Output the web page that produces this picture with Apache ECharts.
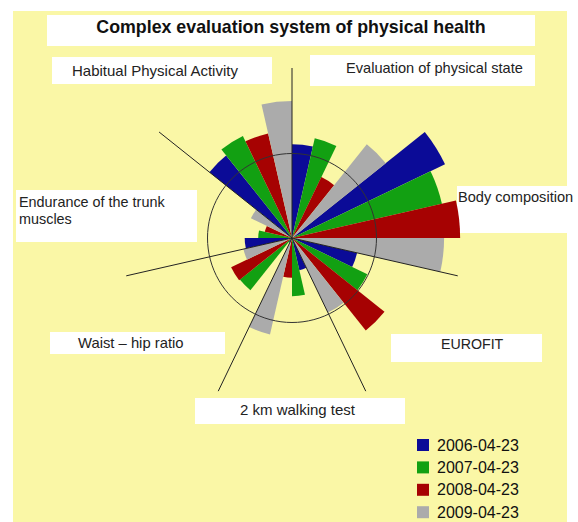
<!DOCTYPE html>
<html>
<head>
<meta charset="utf-8">
<script src="https://cdn.jsdelivr.net/npm/echarts@6/dist/echarts.min.js"></script>
<style>
html,body{margin:0;padding:0;background:#ffffff;}
#chart{width:578px;height:522px;}
</style>
</head>
<body>
<div id="chart"></div>
<script>
// Categories, clockwise from the top
var categories = ['Evaluation of physical state', 'Body composition', 'EUROFIT', '2 km walking test', 'Waist – hip ratio', 'Endurance of the trunk muscles', 'Habitual Physical Activity'];
var seriesNames = ['2006-04-23', '2007-04-23', '2008-04-23', '2009-04-23'];
// values (reference circle = 100)
var s2006 = [111, 201, 79, 39, 6, 56, 125];
var s2007 = [121, 182, 99, 69, 79, 40, 134];
var s2008 = [80, 199, 140, 47, 80, 33, 127];
var s2009 = [142, 180, 98, 117, 59, 54, 162];
var titleText = 'Complex evaluation system of physical health';

var colors = ['#0b0b97', '#12a012', '#a60202', '#ababab'];
var chart = echarts.init(document.getElementById('chart'), null, {renderer: 'svg'});

var cx = 292, cy = 238;
var pxPerUnit = 0.845;
var rMax = 220;

// label boxes: [x, y, w, h, textX, textY, fontSize]
var boxes = [
  [310, 55, 225, 31, 346, 68, 14.6],
  [457, 186, 121, 47, 458, 197, 14.6],
  [391, 334, 151, 28, 441, 344, 14.2],
  [195, 398, 210, 26, 240, 409, 15],
  [50, 332, 175, 22, 78, 343, 14.8],
  [16, 190, 181, 52, 19, 210, 14.4],
  [52, 57, 220, 27, 72, 70, 15]
];
var labelTexts = categories.slice();
labelTexts[5] = 'Endurance of the trunk\nmuscles';

var graphics = [
  {type: 'rect', shape: {x: 13, y: 11, width: 554, height: 511}, style: {fill: '#faf7a6'}, z: -10, silent: true},
  {type: 'rect', shape: {x: 47, y: 15, width: 488, height: 31}, style: {fill: '#ffffff'}, z: -5},
  {type: 'text', x: 291, y: 27, style: {text: titleText, font: 'bold 17.8px "Liberation Sans", Arial, sans-serif', fill: '#111', align: 'center', verticalAlign: 'middle'}, z: 5}
];
boxes.forEach(function (b, i) {
  graphics.push({type: 'rect', shape: {x: b[0], y: b[1], width: b[2], height: b[3]}, style: {fill: '#ffffff'}, z: -5});
  graphics.push({type: 'text', x: b[4], y: b[5], style: {text: labelTexts[i], font: b[6] + 'px "Liberation Sans", Arial, sans-serif', fill: '#222', align: 'left', verticalAlign: 'middle', lineHeight: 17}, z: 5});
});

var series = [s2006, s2007, s2008, s2009].map(function (d, i) {
  return {
    name: seriesNames[i],
    type: 'bar',
    coordinateSystem: 'polar',
    polarIndex: 0,
    data: d,
    barGap: '0%',
    barCategoryGap: '0%',
    itemStyle: {color: colors[i]},
    z: 2
  };
});

var option = {
  animation: false,
  backgroundColor: '#ffffff',
  color: colors,
  graphic: graphics,
  polar: [
    {center: [cx, cy], radius: rMax * pxPerUnit},
    {center: [cx, cy], radius: 170},
    {center: [cx, cy], radius: 100 * pxPerUnit}
  ],
  angleAxis: [
    {polarIndex: 0, type: 'category', data: categories, startAngle: 90, clockwise: true, boundaryGap: true,
     axisLine: {show: false}, axisTick: {show: false}, axisLabel: {show: false}, splitLine: {show: false}},
    {polarIndex: 1, type: 'category', data: categories, startAngle: 90, clockwise: true, boundaryGap: true, z: 20,
     axisLine: {show: false}, axisTick: {show: false}, axisLabel: {show: false},
     splitLine: {show: true, lineStyle: {color: ['#222', 'rgba(0,0,0,0)', '#222', '#222', '#222', '#222', '#222'], width: 1}}},
    {polarIndex: 2, type: 'value', min: 0, max: 360, startAngle: 90, z: 20,
     axisLine: {show: true, lineStyle: {color: '#333', width: 1}}, axisTick: {show: false}, axisLabel: {show: false}, splitLine: {show: false}}
  ],
  radiusAxis: [
    {polarIndex: 0, type: 'value', min: 0, max: rMax, show: false},
    {polarIndex: 1, type: 'value', min: 0, max: 1, show: false},
    {polarIndex: 2, type: 'value', min: 0, max: 1, show: false}
  ],
  legend: {
    orient: 'vertical', left: 417, top: 437, height: 100, padding: 0,
    itemWidth: 12, itemHeight: 12, itemGap: 6.4,
    icon: 'rect',
    data: seriesNames,
    textStyle: {fontSize: 16, lineHeight: 16, fontFamily: '"Liberation Sans", Arial, sans-serif', color: '#111', padding: [0, 0, 0, 3]}
  },
  series: series
};
chart.setOption(option);
</script>
</body>
</html>
